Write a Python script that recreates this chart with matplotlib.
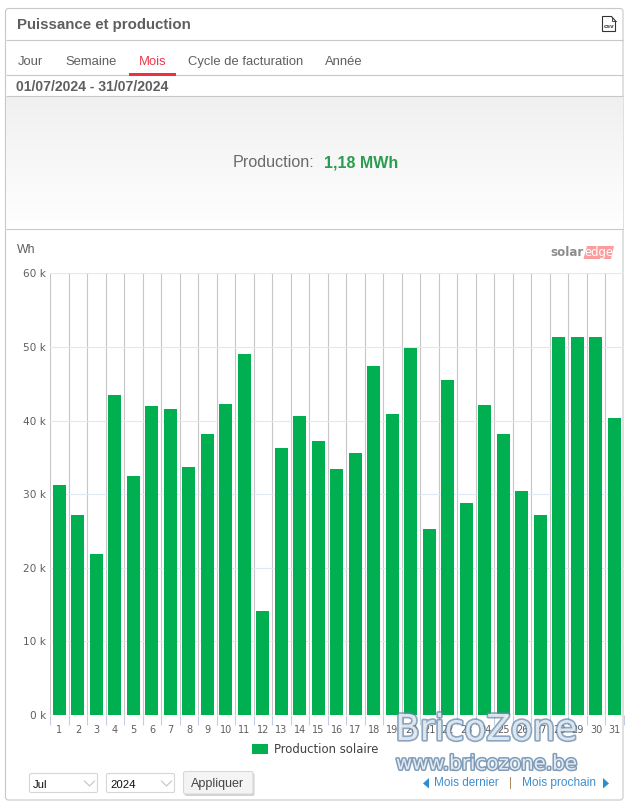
"""Monthly solar production panel (July 2024), drawn as a monitoring dashboard widget."""
import numpy as np
import matplotlib
matplotlib.use("Agg")
import matplotlib.pyplot as plt
import matplotlib.patheffects as pe
from matplotlib.patches import FancyBboxPatch, Rectangle, Polygon

W, H = 630, 807
plt.rcParams["font.family"] = ["Liberation Sans", "DejaVu Sans"]

days = list(range(1, 32))
production_wh = [31300, 27100, 21900, 43500, 32400, 42000, 41600, 33700, 38200, 42300, 49100,
                 14100, 36300, 40600, 37200, 33400, 35600, 47400, 40900, 49800, 25300, 45500,
                 28800, 42100, 38200, 30400, 27100, 51300, 51400, 51400, 40400]
y_ticks = [0, 10000, 20000, 30000, 40000, 50000, 60000]
y_labels = ["0 k", "10 k", "20 k", "30 k", "40 k", "50 k", "60 k"]
tabs = [("Jour", 18), ("Semaine", 65), ("Mois", 139), ("Cycle de facturation", 188), ("Année", 325)]

GREEN = "#00b050"
TEXT = "#5f5f5f"
LINE = "#c8c8c8"
LINK = "#3d8fd1"

fig = plt.figure(figsize=(W / 100, H / 100), dpi=100, facecolor="white")

# page furniture lives in a full-figure axes using pixel coordinates
bg = fig.add_axes([0, 0, 1, 1], zorder=0)
bg.set_xlim(0, W)
bg.set_ylim(H, 0)
bg.axis("off")

bg.add_patch(FancyBboxPatch((5.5, 8.5), 617.5, 791.5, boxstyle="round,pad=0,rounding_size=3",
                            fc="white", ec=LINE, lw=0.8))
for y in [40, 75, 96, 229]:
    bg.plot([5.5, 623], [y, y], color=LINE, lw=0.8, solid_capstyle="butt", zorder=4)

# grey fade behind the production total
fade = np.linspace(0, 1, 128).reshape(-1, 1)
bg.imshow(fade, extent=(6, 622.5, 229, 97), cmap=matplotlib.colors.LinearSegmentedColormap.from_list(
    "fade", ["#f0f0f0", "#ffffff"]), aspect="auto", zorder=1)
bg.set_xlim(0, W)
bg.set_ylim(H, 0)

bg.text(17, 24.5, "Puissance et production", fontsize=10.8, fontweight="bold", color=TEXT, va="center")
for name, x in tabs:
    bg.text(x, 65, name, fontsize=9.4, va="baseline", color="#f0384a" if name == "Mois" else TEXT)
bg.add_patch(Rectangle((129, 73), 47, 3, fc="#f0303c", ec="none", zorder=5))
bg.text(16, 87, "01/07/2024 - 31/07/2024", fontsize=10.1, fontweight="bold", color=TEXT, va="center")

bg.text(233, 162.5, "Production:", fontsize=11.6, color="#6a6a6a", va="center", zorder=3)
bg.text(324, 162.5, "1,18 MWh", fontsize=11.5, fontweight="bold", color="#2a9d4e", va="center", zorder=3)

# csv file icon
bg.add_patch(Polygon([(602.5, 16.5), (611.5, 16.5), (615.5, 21), (615.5, 31.5), (602.5, 31.5)],
                     closed=True, fc="white", ec="#333333", lw=0.8))
bg.plot([611.5, 611.5, 615.5], [16.5, 21, 21], color="#333333", lw=0.6)
bg.text(609, 27, "csv", fontsize=4.6, fontweight="bold", color="#333333", ha="center", va="center")

bg.text(17, 250, "Wh", fontsize=8.8, color=TEXT, va="center")

# solaredge logo
bg.add_patch(Polygon([(583.5, 259), (587, 246), (614, 246), (611, 259)], closed=True, fc="#fb9d9d", ec="none"))
bg.text(550, 252.5, "solar", fontsize=8.6, fontweight="bold", color="#8c8c8c", va="center", family="DejaVu Sans")
bg.text(584.5, 252.5, "edge", fontsize=8.4, color="white", va="center", family="DejaVu Sans")

# chart axes, placed so the day slots and the 60 k line land on the panel grid
left, right, top, bottom = 50.2, 623.7, 273.3, 715
ax = fig.add_axes([left / W, 1 - bottom / H, (right - left) / W, (bottom - top) / H], zorder=2)
ax.patch.set_alpha(0)
ax.bar(days, production_wh, width=0.7, color=GREEN, zorder=3, label="Production solaire")
ax.set_xlim(0.5, 31.5)
ax.set_ylim(0, 60000)
for s in ax.spines.values():
    s.set_visible(False)
ax.set_yticks(y_ticks)
ax.set_yticklabels(y_labels, fontsize=7.6, color=TEXT, family="DejaVu Sans")
ax.tick_params(axis="y", length=0, pad=3)
ax.set_xticks(np.arange(0.5, 32, 1))
ax.set_xticklabels([])
ax.tick_params(axis="x", which="major", length=7.2, width=0.8, color="#c0d0e0")
ax.set_xticks(days, minor=True)
ax.set_xticklabels([str(d) for d in days], minor=True, fontsize=7, color=TEXT, family="DejaVu Sans")
ax.tick_params(axis="x", which="minor", length=0, pad=7)
ax.grid(axis="x", which="major", color="#c6c6c6", lw=0.8, zorder=1)
ax.grid(axis="y", color="#dde9f4", lw=0.8, zorder=0)
ax.set_axisbelow(True)
leg = ax.legend(loc="center", bbox_to_anchor=((315 - left) / (right - left), -(749.5 - bottom) / (bottom - top)),
                frameon=False, prop={"family": "DejaVu Sans", "size": 8.4}, handlelength=1.4, handleheight=0.95,
                handletextpad=0.45, labelcolor="#404040")

# period selectors
for x0, label in [(29.5, "Jul"), (106.5, "2024")]:
    bg.add_patch(FancyBboxPatch((x0, 773.5), 68, 19, boxstyle="round,pad=0,rounding_size=1.5",
                                fc="white", ec="#d6d6d6", lw=0.8))
    bg.text(x0 + 3.5, 785, label, fontsize=8.2, color="#111111", va="center")
    bg.plot([x0 + 55, x0 + 60, x0 + 65], [781, 786, 781], color="#c4c4c4", lw=0.8)
bg.add_patch(FancyBboxPatch((184.5, 773), 70, 23, boxstyle="round,pad=0,rounding_size=2", fc="#d2d2d2", ec="none"))
bg.add_patch(FancyBboxPatch((183.5, 771.5), 69.5, 22.5, boxstyle="round,pad=0,rounding_size=2",
                            fc="#f4f4f4", ec="#d8d8d8", lw=0.8))
bg.text(218, 783.5, "Appliquer", fontsize=9, color="#444444", ha="center", va="center")

# previous / next month links
bg.add_patch(Polygon([(429, 778), (429, 788.5), (423, 783.5)], closed=True, fc="#2a8fd0", ec="none"))
bg.text(433.5, 783, "Mois dernier", fontsize=8.5, color=LINK, va="center")
bg.text(511, 783, "|", fontsize=8.6, color="#b08a60", ha="center", va="center")
bg.text(522.5, 783, "Mois prochain", fontsize=8.6, color=LINK, va="center")
bg.add_patch(Polygon([(603, 778), (603, 788.5), (609, 783.5)], closed=True, fc="#2a8fd0", ec="none"))

# site watermark over the lower right corner
top_layer = fig.add_axes([0, 0, 1, 1], zorder=5)
top_layer.set_xlim(0, W)
top_layer.set_ylim(H, 0)
top_layer.axis("off")
for s, y, size, lw, a in [("BricoZone", 730, 25.8, 2.4, 0.72), ("www.bricozone.be", 764, 14.3, 2.2, 0.8)]:
    top_layer.text(486.5, y, s, fontsize=size, ha="center", va="center", color="white",
                   family="DejaVu Sans", alpha=a,
                   path_effects=[pe.withStroke(linewidth=lw, foreground="#5f84a8")])

fig.savefig("out.png", dpi=100, facecolor="white")
